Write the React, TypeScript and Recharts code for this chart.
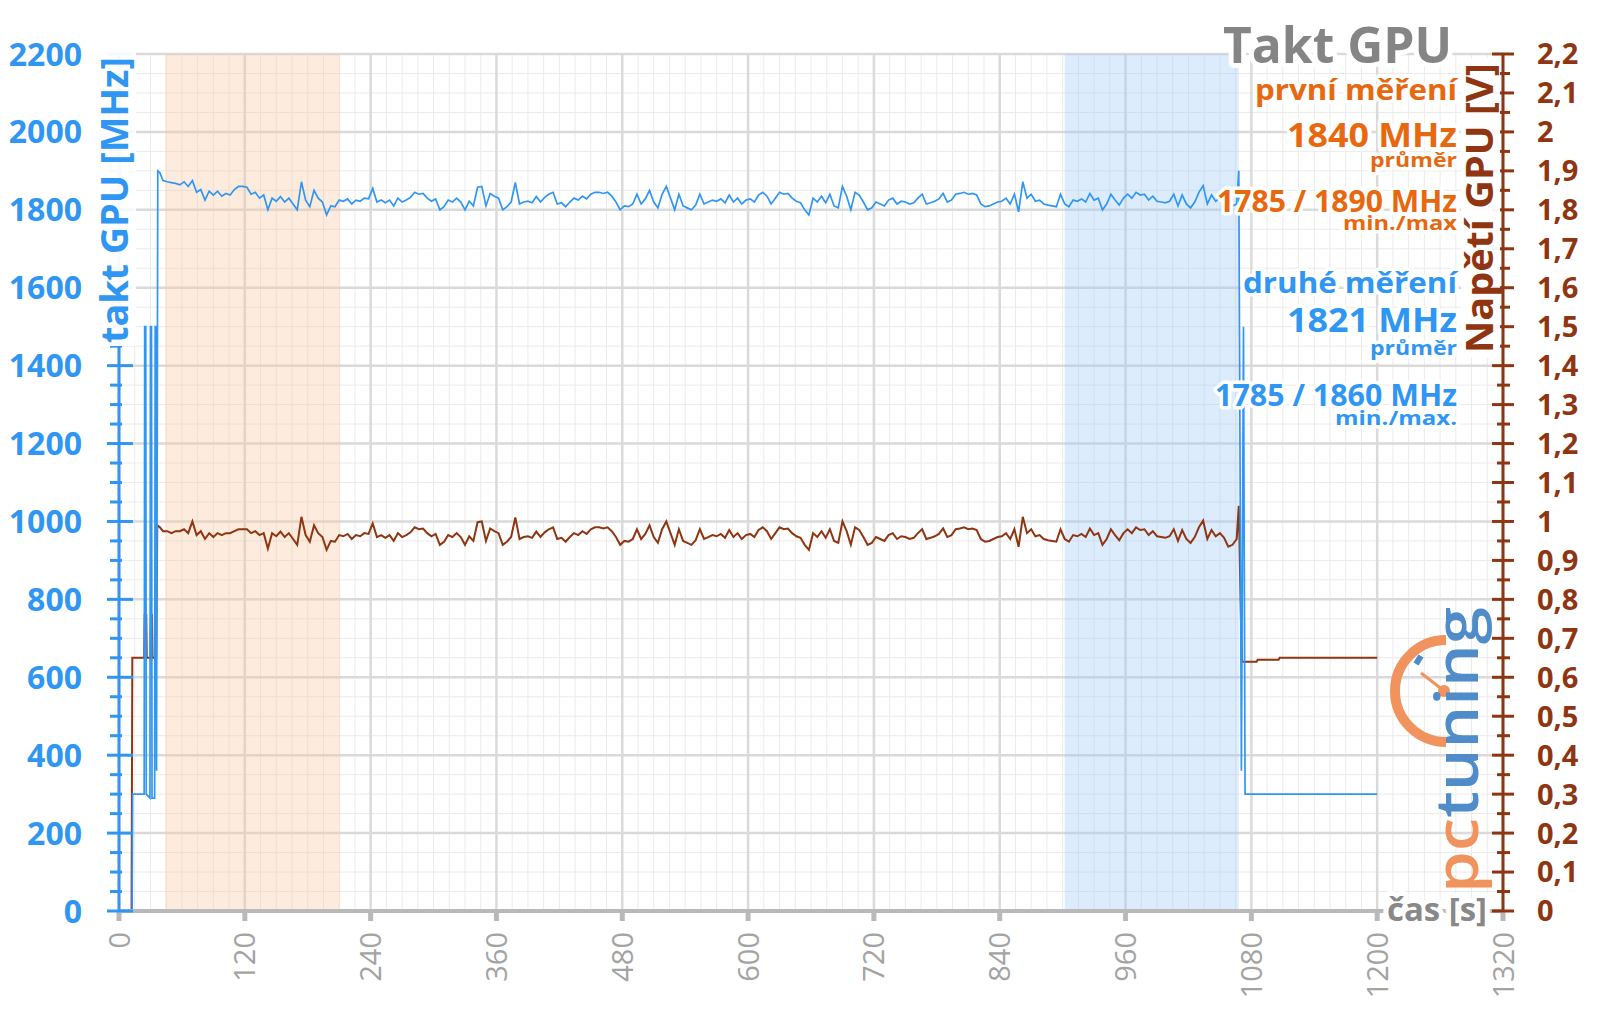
import React from 'react';
import { LineChart, Line, XAxis, YAxis, CartesianGrid, ReferenceArea, ReferenceLine } from 'recharts';

const FONT = "'Open Sans', 'DejaVu Sans', sans-serif";
const BLUE = '#2F96F3';
const BROWN = '#8F3511';
const ORANGE = '#E8680F';
const GRAY = '#888888';

// ---- time in seconds (common sampling of the loaded section) ----
const mainTime = [
  42, 46, 50, 54, 58, 62, 66, 70, 74, 78,
  82, 86, 90, 94, 98, 102, 106, 110, 114, 118,
  122, 126, 130, 134, 138, 142, 146, 150, 154, 158,
  162, 166, 170, 174, 178, 182, 186, 190, 194, 198,
  202, 206, 210, 214, 218, 222, 226, 230, 234, 238,
  242, 246, 250, 254, 258, 262, 266, 270, 274, 278,
  282, 286, 290, 294, 298, 302, 306, 310, 314, 318,
  322, 326, 330, 334, 338, 342, 346, 350, 354, 358,
  362, 366, 370, 374, 378, 382, 386, 390, 394, 398,
  402, 406, 410, 414, 418, 422, 426, 430, 434, 438,
  442, 446, 450, 454, 458, 462, 466, 470, 474, 478,
  482, 486, 490, 494, 498, 502, 506, 510, 514, 518,
  522, 526, 530, 534, 538, 542, 546, 550, 554, 558,
  562, 566, 570, 574, 578, 582, 586, 590, 594, 598,
  602, 606, 610, 614, 618, 622, 626, 630, 634, 638,
  642, 646, 650, 654, 658, 662, 666, 670, 674, 678,
  682, 686, 690, 694, 698, 702, 706, 710, 714, 718,
  722, 726, 730, 734, 738, 742, 746, 750, 754, 758,
  762, 766, 770, 774, 778, 782, 786, 790, 794, 798,
  802, 806, 810, 814, 818, 822, 826, 830, 834, 838,
  842, 846, 850, 854, 858, 862, 866, 870, 874, 878,
  882, 886, 890, 894, 898, 902, 906, 910, 914, 918,
  922, 926, 930, 934, 938, 942, 946, 950, 954, 958,
  962, 966, 970, 974, 978, 982, 986, 990, 994, 998,
  1002, 1006, 1010, 1014, 1018, 1022, 1026, 1030, 1034, 1038,
  1042, 1046, 1050, 1054, 1058, 1062, 1066,
];

// ---- GPU clock [MHz] ----
const clockHeadTime = [0, 12.5, 13, 24, 24.5, 25.5, 26, 29.5, 30, 31, 31.5, 34, 34.5, 35.2, 35.8, 37, 39];
const clockHeadMHz = [0, 0, 300, 300, 1500, 1500, 300, 290, 1500, 1500, 290, 290, 1500, 1500, 360, 1900, 1895];
const clockMainMHz = [
  1875, 1872, 1870, 1868, 1864, 1872, 1860, 1875, 1845, 1852,
  1825, 1848, 1838, 1848, 1835, 1842, 1838, 1852, 1860, 1860,
  1858, 1840, 1845, 1830, 1838, 1800, 1830, 1822, 1834, 1820,
  1830, 1815, 1800, 1872, 1825, 1808, 1850, 1830, 1820, 1787,
  1810, 1808, 1825, 1822, 1828, 1815, 1825, 1822, 1830, 1828,
  1855, 1820, 1825, 1818, 1825, 1810, 1830, 1820, 1825, 1832,
  1845, 1840, 1842, 1830, 1822, 1828, 1800, 1808, 1825, 1820,
  1830, 1820, 1800, 1822, 1810, 1858, 1860, 1810, 1842, 1835,
  1830, 1800, 1808, 1820, 1870, 1815, 1820, 1822, 1818, 1834,
  1820, 1832, 1840, 1845, 1815, 1818, 1808, 1820, 1830, 1825,
  1835, 1828, 1840, 1845, 1845, 1842, 1845, 1835, 1820, 1800,
  1810, 1808, 1815, 1840, 1815, 1828, 1850, 1820, 1805, 1840,
  1860, 1830, 1800, 1840, 1810, 1805, 1800, 1812, 1840, 1815,
  1820, 1825, 1822, 1828, 1818, 1838, 1820, 1830, 1815, 1825,
  1828, 1820, 1838, 1845, 1835, 1815, 1830, 1845, 1840, 1842,
  1830, 1822, 1818, 1800, 1787, 1830, 1820, 1835, 1818, 1840,
  1810, 1805, 1860, 1835, 1800, 1845, 1838, 1820, 1800, 1805,
  1820, 1815, 1810, 1825, 1830, 1815, 1822, 1820, 1815, 1818,
  1830, 1840, 1815, 1818, 1822, 1828, 1842, 1820, 1825, 1840,
  1842, 1845, 1840, 1842, 1838, 1815, 1808, 1810, 1815, 1820,
  1822, 1830, 1815, 1840, 1795, 1872, 1830, 1840, 1822, 1825,
  1815, 1812, 1810, 1808, 1840, 1815, 1808, 1825, 1822, 1828,
  1820, 1842, 1825, 1830, 1800, 1815, 1840, 1825, 1812, 1830,
  1840, 1830, 1845, 1838, 1840, 1825, 1835, 1822, 1820, 1818,
  1822, 1840, 1810, 1838, 1815, 1805, 1820, 1845, 1862, 1815,
  1838, 1822, 1830, 1818, 1800, 1810, 1815,
];
const clockTailTime = [1068, 1070.5, 1072.5, 1074, 1200];
const clockTailMHz = [1900, 360, 1500, 300, 300];

// ---- GPU voltage [V] ----
const voltHeadTime = [0, 12, 12.7, 24, 24.5, 26, 26.5, 30, 30.5, 31.5, 32, 35.5, 36.5, 39];
const voltHeadV = [0, 0, 0.65, 0.65, 0.76, 0.76, 0.65, 0.65, 0.76, 0.76, 0.65, 0.65, 0.99, 0.985];
const voltMainV = [
  0.975, 0.975, 0.97, 0.975, 0.975, 0.98, 0.97, 1.0, 0.965, 0.975,
  0.955, 0.97, 0.96, 0.97, 0.965, 0.97, 0.97, 0.975, 0.98, 0.98,
  0.98, 0.97, 0.975, 0.965, 0.97, 0.93, 0.97, 0.962, 0.974, 0.96,
  0.97, 0.955, 0.94, 1.012, 0.965, 0.948, 0.99, 0.97, 0.96, 0.927,
  0.95, 0.948, 0.965, 0.962, 0.968, 0.955, 0.965, 0.962, 0.97, 0.968,
  0.995, 0.96, 0.965, 0.958, 0.965, 0.95, 0.97, 0.96, 0.965, 0.972,
  0.985, 0.98, 0.982, 0.97, 0.962, 0.968, 0.94, 0.948, 0.965, 0.96,
  0.97, 0.96, 0.94, 0.962, 0.95, 0.998, 1.0, 0.95, 0.982, 0.975,
  0.97, 0.94, 0.948, 0.96, 1.01, 0.955, 0.96, 0.962, 0.958, 0.974,
  0.96, 0.972, 0.98, 0.985, 0.955, 0.958, 0.948, 0.96, 0.97, 0.965,
  0.975, 0.968, 0.98, 0.985, 0.985, 0.982, 0.985, 0.975, 0.96, 0.94,
  0.95, 0.948, 0.955, 0.98, 0.955, 0.968, 0.99, 0.96, 0.945, 0.98,
  1.0, 0.97, 0.94, 0.98, 0.95, 0.945, 0.94, 0.952, 0.98, 0.955,
  0.96, 0.965, 0.962, 0.968, 0.958, 0.978, 0.96, 0.97, 0.955, 0.965,
  0.968, 0.96, 0.978, 0.985, 0.975, 0.955, 0.97, 0.985, 0.98, 0.982,
  0.97, 0.962, 0.958, 0.94, 0.927, 0.97, 0.96, 0.975, 0.958, 0.98,
  0.95, 0.945, 1.0, 0.975, 0.94, 0.985, 0.978, 0.96, 0.94, 0.945,
  0.96, 0.955, 0.95, 0.965, 0.97, 0.955, 0.962, 0.96, 0.955, 0.958,
  0.97, 0.98, 0.955, 0.958, 0.962, 0.968, 0.982, 0.96, 0.965, 0.98,
  0.982, 0.985, 0.98, 0.982, 0.978, 0.955, 0.948, 0.95, 0.955, 0.96,
  0.962, 0.97, 0.955, 0.98, 0.935, 1.012, 0.97, 0.98, 0.962, 0.965,
  0.955, 0.952, 0.95, 0.948, 0.98, 0.955, 0.948, 0.965, 0.962, 0.968,
  0.96, 0.982, 0.965, 0.97, 0.94, 0.955, 0.98, 0.965, 0.952, 0.97,
  0.98, 0.97, 0.985, 0.978, 0.98, 0.965, 0.975, 0.962, 0.96, 0.958,
  0.962, 0.98, 0.95, 0.978, 0.955, 0.945, 0.96, 0.985, 1.002, 0.955,
  0.978, 0.962, 0.97, 0.958, 0.935, 0.94, 0.955,
];
const voltTailTime = [1068, 1070, 1071, 1085, 1086, 1106, 1107, 1200];
const voltTailV = [1.04, 0.76, 0.64, 0.64, 0.645, 0.645, 0.65, 0.65];

// ---- axis ticks ----
const xLabelTicks = [0, 120, 240, 360, 480, 600, 720, 840, 960, 1080, 1200, 1320];
const mhzMajorTicks = [0, 200, 400, 600, 800, 1000, 1200, 1400, 1600, 1800, 2000, 2200];
const xGridTicks: number[] = [];
for (let s = 0; s <= 1320; s += 15) xGridTicks.push(s);
const mhzTicks: number[] = [];
for (let m = 0; m <= 2200; m += 50) mhzTicks.push(m);
const voltTicks: number[] = [];
for (let i = 0; i <= 44; i++) voltTicks.push(Math.round(i * 5) / 100);

// ---- shaded measurement windows [s] ----
const firstWindow = [44, 211];
const secondWindow = [902, 1068];

function build(ts: number[], vs: number[]) {
  const n = Math.min(ts.length, vs.length);
  const out: { t: number; v: number }[] = [];
  for (let i = 0; i < n; i++) out.push({ t: ts[i], v: vs[i] });
  return out;
}

const clockData = [
  ...build(clockHeadTime, clockHeadMHz),
  ...build(mainTime, clockMainMHz),
  ...build(clockTailTime, clockTailMHz),
];
const voltData = [
  ...build(voltHeadTime, voltHeadV),
  ...build(mainTime, voltMainV),
  ...build(voltTailTime, voltTailV),
];

const XTick = (p: any) => {
  const { x, y, payload } = p;
  const v = payload.value;
  if (v % 120 !== 0) return <g />;
  const ax = x + 10.5;
  const ay = y + 21;
  return (
    <g>
      <rect x={x - 2.5} y={y} width={5} height={10} fill="#b9b9b9" />
      <text x={ax} y={ay} transform={`rotate(-90 ${ax} ${ay})`} textAnchor="end" fontFamily={FONT} fontSize={29} fill="#a3a3a3">
        {v}
      </text>
    </g>
  );
};

const LeftTick = (p: any) => {
  const { x, y, payload } = p;
  const v = payload.value;
  const major = v % 200 === 0;
  return (
    <g>
      <line x1={major ? x - 12 : x - 9} x2={major ? x + 14 : x + 3} y1={y} y2={y} stroke={BLUE} strokeWidth={3} />
      {major && (
        <text x={x - 37} y={y} dy="0.36em" textAnchor="end" fill={BLUE} fontFamily={FONT} fontSize={32} fontWeight={700}>
          {v}
        </text>
      )}
    </g>
  );
};

const RightTick = (p: any) => {
  const { x, y, payload } = p;
  const v = payload.value;
  const major = Math.round(v * 100) % 10 === 0;
  const label = String(Number(v.toFixed(1))).replace('.', ',');
  return (
    <g>
      <line x1={major ? x - 11 : x - 6} x2={major ? x + 11 : x + 7} y1={y} y2={y} stroke={BROWN} strokeWidth={3} />
      {major && (
        <text x={x + 34} y={y} dy="0.36em" textAnchor="start" fill={BROWN} fontFamily={FONT} fontSize={29} fontWeight={700}>
          {label}
        </text>
      )}
    </g>
  );
};

const glow: any = { stroke: '#ffffff', strokeWidth: 7, strokeLinejoin: 'round', paintOrder: 'stroke' };

const Note = ({ y, text, color, size, len }: { y: number; text: string; color: string; size: number; len: number }) => (
  <text x={1457} y={y} textAnchor="end" fill={color} fontFamily={FONT} fontSize={size} fontWeight={700} textLength={len} lengthAdjust="spacingAndGlyphs" {...glow}>
    {text}
  </text>
);

export default function App() {
  return (
    <div style={{ position: 'absolute', left: 0, top: 0, width: 1600, height: 1009, background: '#fff' }}>
      <div style={{ position: 'absolute', left: 0, top: 0 }}>
        <LineChart width={1600} height={1009} margin={{ top: 54, right: 0, bottom: 0, left: 0 }}>
          <CartesianGrid yAxisId="mhz" stroke="#ebebeb" strokeWidth={1} />
          <XAxis
            dataKey="t"
            type="number"
            domain={[0, 1320]}
            ticks={xGridTicks}
            interval={0}
            height={98}
            tickSize={0}
            tickMargin={0}
            tickLine={false}
            axisLine={{ stroke: '#b9b9b9', strokeWidth: 4 }}
            tick={(p: any) => <XTick {...p} />}
            allowDataOverflow
          />
          <YAxis
            yAxisId="mhz"
            domain={[0, 2200]}
            ticks={mhzTicks}
            interval={0}
            width={119}
            tickSize={0}
            tickMargin={0}
            tickLine={false}
            axisLine={{ stroke: BLUE, strokeWidth: 3 }}
            tick={(p: any) => <LeftTick {...p} />}
            allowDataOverflow
          />
          <YAxis
            yAxisId="v"
            orientation="right"
            domain={[0, 2.2]}
            ticks={voltTicks}
            interval={0}
            width={97}
            tickSize={0}
            tickMargin={0}
            tickLine={false}
            axisLine={{ stroke: BROWN, strokeWidth: 3 }}
            tick={(p: any) => <RightTick {...p} />}
            allowDataOverflow
          />
          {xLabelTicks.map((v) => (
            <ReferenceLine key={'vx' + v} yAxisId="mhz" x={v} stroke="#dadada" strokeWidth={2.5} zIndex={-90} />
          ))}
          {mhzMajorTicks.map((v) => (
            <ReferenceLine key={'hy' + v} yAxisId="mhz" y={v} stroke="#dadada" strokeWidth={2.5} zIndex={-90} />
          ))}
          <ReferenceArea yAxisId="mhz" x1={firstWindow[0]} x2={firstWindow[1]} y1={0} y2={2200} fill="#F9C9A0" fillOpacity={0.35} stroke="none" zIndex={-80} />
          <ReferenceArea yAxisId="mhz" x1={secondWindow[0]} x2={secondWindow[1]} y1={0} y2={2200} fill="#9CC8F5" fillOpacity={0.35} stroke="none" zIndex={-80} />
          <Line yAxisId="v" data={voltData} dataKey="v" type="linear" stroke={BROWN} strokeWidth={2} dot={false} activeDot={false} isAnimationActive={false} />
          <Line yAxisId="mhz" data={clockData} dataKey="v" type="linear" stroke={BLUE} strokeWidth={1.7} dot={false} activeDot={false} isAnimationActive={false} />
        </LineChart>
      </div>
      <svg width={1600} height={1009} style={{ position: 'absolute', left: 0, top: 0, pointerEvents: 'none' }}>
        {/* pctuning logo */}
        <path d="M 1446 640 A 51 51 0 0 0 1446 742" stroke="#F0935E" strokeWidth={10} fill="none" />
        <line x1={1421} y1={673} x2={1443} y2={690} stroke="#F0935E" strokeWidth={3} />
        <circle cx={1444} cy={691} r={6} fill="#F0935E" />
        <line x1={1416} y1={664} x2={1421} y2={656} stroke="#4F8CC9" strokeWidth={6} />
        <text x={1478} y={893} transform="rotate(-90 1478 893)" fontFamily={FONT} fontSize={60} fontWeight={600} textLength={286} lengthAdjust="spacingAndGlyphs">
          <tspan fill="#F0935E">pc</tspan>
          <tspan fill="#4F8CC9">tuning</tspan>
        </text>

        {/* white halos behind axis titles */}
        <rect x={94} y={50} width={42} height={296} fill="#ffffff" opacity={0.95} />
        <rect x={1461} y={58} width={39} height={300} fill="#ffffff" opacity={0.95} />

        {/* axis titles */}
        <text x={128} y={200} transform="rotate(-90 128 200)" textAnchor="middle" fill={BLUE} fontFamily={FONT} fontSize={37} fontWeight={700} textLength={286} lengthAdjust="spacingAndGlyphs">
          takt GPU [MHz]
        </text>
        <text x={1493} y={208} transform="rotate(-90 1493 208)" textAnchor="middle" fill={BROWN} fontFamily={FONT} fontSize={37} fontWeight={700} textLength={290} lengthAdjust="spacingAndGlyphs">
          Napětí GPU [V]
        </text>
        <text x={1487} y={921} textAnchor="end" fill={GRAY} fontFamily={FONT} fontSize={32} fontWeight={700} textLength={100} lengthAdjust="spacingAndGlyphs" {...glow} strokeWidth={10}>
          čas [s]
        </text>

        {/* title and notes */}
        <text x={1452} y={63} textAnchor="end" fill="#858585" fontFamily={FONT} fontSize={51} fontWeight={700} textLength={229} lengthAdjust="spacingAndGlyphs" {...glow} strokeWidth={10}>
          Takt GPU
        </text>
        <Note y={100} text="první měření" color={ORANGE} size={29} len={202} />
        <Note y={147} text="1840 MHz" color={ORANGE} size={34} len={170} />
        <Note y={167} text="průměr" color={ORANGE} size={20} len={87} />
        <Note y={212} text="1785 / 1890 MHz" color={ORANGE} size={30} len={240} />
        <Note y={230} text="min./max" color={ORANGE} size={20} len={114} />
        <Note y={293} text="druhé měření" color={BLUE} size={29} len={214} />
        <Note y={332} text="1821 MHz" color={BLUE} size={34} len={170} />
        <Note y={355} text="průměr" color={BLUE} size={20} len={87} />
        <Note y={406} text="1785 / 1860 MHz" color={BLUE} size={30} len={242} />
        <Note y={425} text="min./max." color={BLUE} size={20} len={122} />
      </svg>
    </div>
  );
}
